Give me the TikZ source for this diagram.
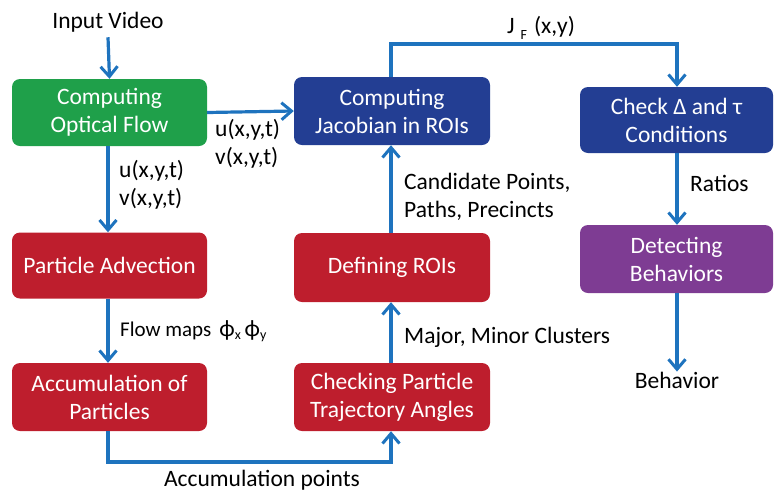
\documentclass[tikz,border=0pt]{standalone}
\usepackage{fontspec}
\setmainfont{Carlito}
\usetikzlibrary{arrows.meta}
\definecolor{flowblue}{HTML}{1E73BE}
\definecolor{boxgreen}{HTML}{1FA04A}
\definecolor{boxred}{HTML}{BE1E2D}
\definecolor{boxnavy}{HTML}{233E93}
\definecolor{boxpurple}{HTML}{7E3C93}
\tikzset{
  stage/.style={rounded corners=8pt, inner sep=0pt, text=white, align=center,
    font=\fontsize{23.5}{28}\selectfont},
  lbl/.style={inner sep=0pt, align=left, font=\fontsize{23.5}{27.5}\selectfont, text=black},
  flow/.style={draw=flowblue, line width=3.2pt,
    -{Straight Barb[length=10pt,width=17pt,line width=3pt]}},
}
\begin{document}
\begin{tikzpicture}[x=1pt,y=-1pt]
\useasboundingbox (0,0) rectangle (774,491);

% processing stages
\node[stage, fill=boxgreen, minimum width=195pt, minimum height=67pt] (of) at (109.5,112.5) {Computing\\Optical Flow};
\node[stage, fill=boxred, minimum width=195pt, minimum height=66pt] (pa) at (109.5,265.5) {Particle Advection};
\node[stage, fill=boxred, minimum width=195pt, minimum height=68pt] (ap) at (109.5,397) {Accumulation of\\Particles};
\node[stage, fill=boxnavy, minimum width=196pt, minimum height=68pt] (jr) at (392,111) {Computing\\Jacobian in ROIs};
\node[stage, fill=boxred, minimum width=196pt, minimum height=69pt] (dr) at (392,267.5) {Defining ROIs};
\node[stage, fill=boxred, minimum width=196pt, minimum height=68pt] (ct) at (392,397) {Checking Particle\\Trajectory Angles};
\node[stage, fill=boxnavy, minimum width=193pt, minimum height=66pt] (cc) at (676.5,120) {Check Δ and τ\\Conditions};
\node[stage, fill=boxpurple, minimum width=193pt, minimum height=68pt] (db) at (676.5,259) {Detecting\\Behaviors};

% free ends
\node[lbl] (in) at (108,22) {Input Video};
\node[lbl] (bh) at (677,380) {Behavior};

% connectors
\draw[flow] (in.south) ++(0,5) coordinate (inb) -- (of.north);
\draw[flow] (of.east) -- (jr.west);
\draw[flow] (of.south -| 108,0) -- (pa.north -| 108,0);
\draw[flow] (pa.south -| 108,0) -- (ap.north -| 108,0);
\coordinate (accL) at (108,462);
\coordinate (accR) at (391,462);
\draw[flow] (ap.south -| accL) -- (accL) -- (accR) -- (ct.south -| accR);
\draw[flow] (ct.north -| accR) -- (dr.south -| accR);
\draw[flow] (dr.north -| accR) -- (jr.south -| accR);
\coordinate (jfL) at (391,44);
\coordinate (jfR) at (677,44);
\draw[flow] (jr.north -| jfL) -- (jfL) -- (jfR) -- (cc.north -| jfR);
\draw[flow] (cc.south -| jfR) -- (db.north -| jfR);
\draw[flow] (db.south -| jfR) -- (bh.north);

% connector labels
\node[lbl, anchor=west] (l1) at (215,144) {u(x,y,t)\\v(x,y,t)};
\node[lbl, anchor=west] (l2) at (119,185) {u(x,y,t)\\v(x,y,t)};
\node[lbl, anchor=west] (l3) at (120,331) {{\fontsize{21}{24}\selectfont Flow maps}\hspace{8pt}ϕ\raisebox{-3pt}{\fontsize{14}{16}\selectfont x}\,ϕ\raisebox{-3pt}{\fontsize{14}{16}\selectfont y}};
\node[lbl] (l4) at (262,480) {Accumulation points};
\node[lbl, anchor=west] (l5) at (404,337) {Major, Minor Clusters};
\node[lbl, anchor=west] (l6) at (404,197) {Candidate Points,\\Paths, Precincts};
\node[lbl] (l7) at (541,28) {J\hspace{6pt}\raisebox{-6pt}{\fontsize{14}{16}\selectfont F}\hspace{7pt}(x,y)};
\node[lbl, anchor=west] (l8) at (690,183) {Ratios};
\end{tikzpicture}
\end{document}
